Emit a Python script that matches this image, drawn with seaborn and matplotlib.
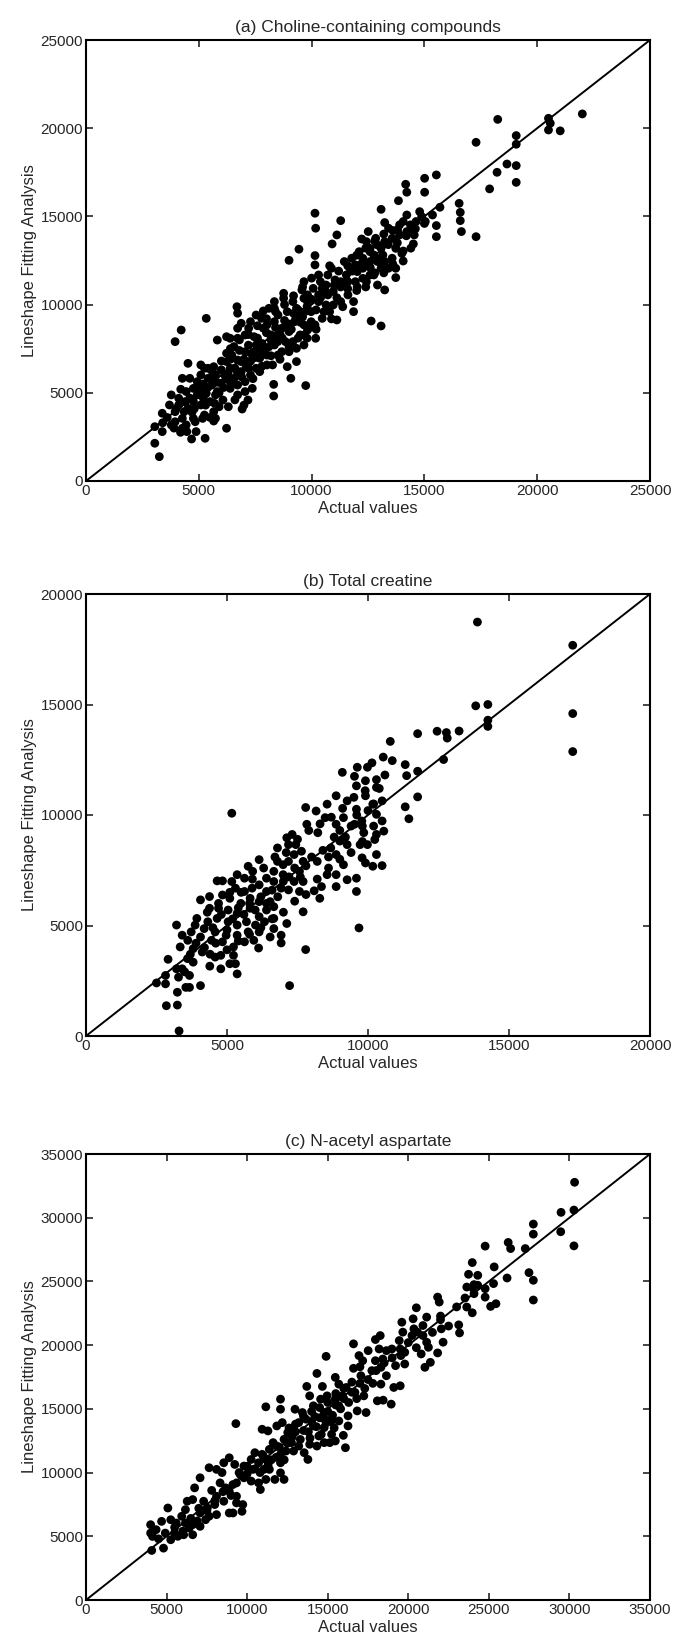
import matplotlib
matplotlib.use("Agg")
import matplotlib.pyplot as plt
import seaborn as sns
import pandas as pd

# (actual, lineshape fitting) pairs
choline_points = [
    (22000, 20810), (18250, 20500), (20500, 20560), (20580, 20280), (20500, 19900), (21020, 19850),
    (19070, 19580), (19070, 19090), (17290, 19200), (18660, 17970), (19070, 17880), (18220, 17500),
    (19070, 16930), (17890, 16560), (16540, 15740), (16590, 15230), (16590, 14760), (16640, 14140),
    (17290, 13850), (15530, 17350), (15010, 17160), (14170, 16820), (14220, 16370), (15010, 16370),
    (13850, 15890), (15690, 15520), (15360, 15080), (14790, 15270), (14220, 15080), (15040, 14710),
    (15530, 14480), (15530, 13850), (14470, 14140), (14510, 13440), (14060, 13040), (14060, 12470),
    (13730, 12060), (13730, 11530), (13080, 15400), (13240, 14650), (13810, 14240), (12510, 14140),
    (12220, 13720), (11120, 13950), (10910, 13440), (11290, 14760), (10150, 15180), (10180, 14330),
    (9440, 13140), (9000, 12510), (10150, 12780), (10150, 12250), (10880, 12060), (11450, 12440),
    (11940, 12250), (12590, 13000), (12920, 13380), (13240, 12440), (13080, 12060), (12760, 11680),
    (12430, 11300), (13240, 10830), (12020, 11000), (11860, 10170), (11610, 11300), (11290, 11000),
    (11120, 10390), (11380, 9880), (11860, 9600), (12640, 9070), (13080, 8790), (10310, 11680),
    (10640, 11110), (9660, 11300), (9820, 10550), (10310, 10170), (10550, 9600), (11120, 9130),
    (10880, 9190), (10150, 8850), (9820, 8560), (10180, 8090), (9660, 7710), (8760, 10640),
    (8350, 9790), (7860, 9640), (6690, 9880), (6720, 9510), (6880, 8940), (6230, 8180),
    (5820, 7990), (5330, 9220), (4220, 8560), (3950, 7900), (4520, 6670), (4270, 5820),
    (3780, 4880), (3380, 3840), (3050, 3080), (3050, 2140), (3250, 1380), (3380, 2800),
    (3780, 3180), (4190, 2760), (4470, 2800), (4680, 2380), (4880, 2800), (5280, 2420),
    (5660, 3400), (6230, 2990), (6310, 4210), (6920, 4080), (7180, 4590), (8320, 4820),
    (9080, 5820), (9740, 5410), (8320, 5480), (8920, 6480), (9330, 6770),
    (3700, 4310), (4110, 4690), (3950, 3930), (4270, 3550), (4520, 4120), (4760, 4500),
    (4440, 5070), (4760, 5250), (4930, 5630), (5250, 6390), (5090, 6010), (5410, 5820),
    (5580, 5440), (5330, 4970), (4930, 4880), (5090, 4310), (5500, 4500), (5740, 4880),
    (5660, 3930), (5250, 3740), (4760, 3550), (4440, 3180), (4840, 3360), (5170, 3550),
    (5740, 3550), (4600, 5820), (5090, 6580), (5410, 6390), (5660, 6480), (5740, 6010),
    (5990, 5540), (5820, 5070), (6070, 4590), (5900, 4210), (4110, 4310), (4350, 3930),
    (3950, 3360), (4270, 2990), (6390, 5250), (6560, 5820), (6390, 6390), (6720, 6860),
    (6460, 7140), (7050, 7330), (6880, 6770), (7210, 6390), (6880, 6200), (6720, 5440),
    (7050, 5630), (7290, 6010), (7540, 6390), (7700, 6960), (7370, 7140), (7540, 7710),
    (7860, 7520), (8020, 7140), (8020, 6580), (7700, 6200), (7370, 5250), (7050, 5070),
    (6720, 4880), (6390, 5630), (6150, 6010), (6230, 6770), (6230, 7240), (6390, 8090),
    (6720, 8660), (7210, 8660), (7450, 8180), (7860, 8660), (7780, 9220), (8020, 8850),
    (8350, 9030), (8190, 8280), (8350, 7710), (8510, 7140), (8270, 6580), (8680, 7330),
    (8840, 7900), (9000, 8470), (8680, 8660), (8510, 9410), (8920, 9600), (9170, 10170),
    (9330, 9790), (9250, 9030), (9490, 9220), (9660, 8850), (9490, 8280), (9170, 7900),
    (9000, 7330), (9330, 7520), (9660, 8280), (9980, 9030), (9980, 9600), (9820, 10170),
    (9570, 10830), (9660, 10360), (8760, 10360), (8350, 10170), (8110, 9790), (7540, 9410),
    (7290, 9030), (7050, 8280), (6720, 8090), (6560, 7620), (7620, 7240),
    (10470, 10920), (10720, 10550), (10960, 10740), (11290, 11300), (11540, 11680), (11700, 12060),
    (12020, 11870), (12270, 12060), (12270, 12630), (12590, 13190), (12760, 12810), (12920, 12440),
    (13160, 12810), (13240, 13570), (13570, 13760), (13730, 13190), (13900, 13950), (14220, 14140),
    (14380, 14520), (14630, 14710), (14880, 14990), (14550, 13950), (13570, 12630), (13410, 12060),
    (12920, 11110), (12590, 11680), (12430, 12250), (11940, 11300), (11610, 10550), (11290, 10170),
    (10960, 9980), (10640, 9980), (10800, 9600), (10470, 9220), (10310, 10550), (10070, 10920),
    (10390, 11300), (10720, 11680), (11040, 11400), (11780, 12630), (12110, 13000), (12430, 13570),
    (12840, 13760), (13080, 13190), (12590, 12440), (12270, 11490), (13410, 14330), (13900, 14520),
    (14060, 14710),
    (4600, 4700), (4800, 4100), (5000, 5200), (5200, 4700), (5400, 5300), (5600, 5900),
    (5800, 5600), (6000, 6300), (6200, 5800), (6400, 6900), (6600, 6400), (6800, 7400),
    (7000, 6900), (7200, 7700), (7400, 7300), (7600, 8100), (7800, 7800), (8000, 8400),
    (8200, 8000), (8400, 8700), (8600, 8300), (8800, 9100), (9000, 8900), (9200, 9500),
    (9400, 9700), (9600, 9300), (9800, 9900), (10000, 10300), (10200, 9700), (10400, 10400),
    (5100, 5000), (5300, 4300), (5500, 3600), (5700, 4400), (5900, 5000), (6100, 5300),
    (6300, 6100), (6500, 5500), (6700, 6200), (6900, 5900), (7100, 6500), (7300, 6800),
    (7500, 7000), (7700, 7500), (7900, 7200), (8100, 7600), (8300, 8200), (8500, 7900),
    (8700, 8100), (8900, 8800), (9100, 8600), (9300, 9200), (9500, 9000), (9700, 9600),
    (9900, 8700), (4400, 4500), (4200, 5200), (4000, 4100), (3600, 3600), (3400, 3300),
    (3900, 3000), (4700, 3900), (5200, 5500), (5600, 6200), (6000, 6800), (6400, 7500),
    (6800, 8000), (7200, 8300), (7600, 8800), (8000, 9200), (8400, 9600), (8800, 10000),
    (9200, 10500), (9600, 11000), (10000, 11500), (6600, 4600), (7000, 4300), (7400, 5800),
    (7800, 6500), (8200, 7100), (8600, 6900), (9000, 7600), (9400, 8100), (9800, 8100),
    (10200, 8600), (10600, 10800), (11000, 11100), (11400, 11200), (11800, 11900), (12200, 12300),
    (12600, 12100), (13000, 12600), (13400, 13400), (13800, 13500), (14200, 13900), (14600, 14300),
    (15000, 14600), (11200, 11900), (11600, 12200), (12000, 12800), (12400, 13200), (12800, 13600),
    (13200, 14000), (13600, 14200), (10800, 12200), (11600, 10900), (12000, 10800), (12400, 11000),
    (12800, 11800), (13200, 11800), (13600, 12300), (14000, 12900), (14400, 13200),
]

creatine_points = [
    (13880, 18730), (17260, 17680), (17260, 14590), (17260, 12870), (13820, 14940), (14250, 15000),
    (14250, 14290), (14250, 14010), (11760, 13680), (12450, 13790), (12780, 13730), (12810, 13480),
    (13230, 13800), (12680, 12510), (10790, 13330), (10540, 12620), (10860, 12460), (11320, 12280),
    (11370, 11780), (11760, 11980), (11760, 10820), (11320, 10370), (11450, 9830), (9090, 11930),
    (9620, 12160), (9980, 12160), (10140, 12360), (10600, 11810), (9520, 11750), (9590, 11320),
    (9910, 11550), (10300, 11250), (10500, 10640), (10170, 10490), (9910, 10870), (9590, 10260),
    (9260, 10640), (8870, 10870), (8550, 10490), (7790, 10340), (8160, 10180), (8480, 9880),
    (7830, 9580), (8220, 9200), (8870, 9580), (9130, 9880), (9520, 9580), (9780, 9730),
    (10300, 10030), (10500, 9730), (10300, 9120), (10560, 9270), (9850, 9200), (9980, 8660),
    (10240, 8890), (10300, 8210), (9790, 8060), (9910, 7830), (10170, 7680), (10500, 7710),
    (9720, 8660), (9260, 8660), (9000, 8820), (8680, 8510), (8870, 8210), (9130, 7750),
    (8870, 7300), (8550, 7300), (9260, 7070), (9590, 7140), (9590, 6540), (9680, 4890),
    (8870, 6760), (8350, 6760), (8090, 6570), (8290, 6230), (7700, 5620), (7790, 3910),
    (7220, 2280), (7120, 5090), (6920, 4560), (6920, 4210), (6660, 4860), (6530, 4480),
    (6120, 3980), (6140, 4710), (5170, 10080), (7120, 8970), (7310, 9120), (6790, 8510),
    (7180, 8660), (7440, 8660), (7640, 8360), (7700, 7900), (7570, 7450), (7380, 8210),
    (7180, 7900), (6990, 7750), (6790, 7900), (6660, 7450), (6990, 7300), (7380, 6990),
    (7700, 6990), (7570, 6540), (7180, 6610), (6920, 6690), (6660, 6990), (6400, 7140),
    (6140, 6840), (5910, 7450), (6140, 7980), (5750, 7680), (5620, 7140), (5890, 6690),
    (5620, 6540), (5360, 7300), (5170, 6990), (4840, 7020), (4650, 7020), (5300, 6690),
    (6400, 6540), (6530, 6080), (6140, 6080), (5820, 6230), (5490, 6000), (5100, 6230),
    (4840, 6380), (4380, 6310), (4060, 6160), (4380, 5780), (4700, 5780), (5040, 5700),
    (5360, 5550), (5820, 5780), (6140, 5400), (6400, 5700), (6660, 5850), (6660, 5320),
    (6330, 5170), (6010, 5020), (5690, 5170), (5360, 5020), (5040, 5170), (4650, 5320),
    (4320, 5170), (3930, 5320), (3870, 5020), (4190, 4860), (4580, 4710), (4970, 4560),
    (5360, 4560), (5750, 4710), (5950, 4330), (5620, 4260), (5230, 4030), (4840, 4260),
    (4450, 4330), (4060, 4480), (3730, 4710), (3410, 4560), (3210, 5020), (3610, 4330),
    (3800, 3950), (4120, 3800), (4580, 3570), (4780, 3650), (5230, 3650), (5300, 3270),
    (5360, 2810), (5100, 3270), (4780, 3040), (4390, 3160), (4060, 2280), (3670, 2200),
    (3540, 2200), (3670, 2740), (3410, 3040), (3280, 2660), (3210, 3040), (2910, 3470),
    (2820, 2740), (2820, 2360), (2500, 2400), (3240, 1980), (2850, 1370), (3240, 1400),
    (3300, 230), (3340, 4030), (3800, 3340),
    (4500, 4900), (4800, 5500), (5000, 4800), (5200, 5300), (5400, 5800), (5600, 5500),
    (5800, 6000), (6000, 5700), (6200, 6300), (6400, 6000), (6600, 6600), (6800, 6300),
    (7000, 7000), (7200, 7200), (7400, 7600), (7600, 7200), (7800, 7700), (8000, 8100),
    (8200, 7900), (8400, 8400), (8600, 8100), (8800, 9000), (9000, 9300), (9200, 9000),
    (9400, 9500), (9600, 10000), (9800, 9500), (10000, 10200), (10200, 10500), (10400, 11200),
    (4200, 4000), (4400, 3700), (4600, 4200), (5000, 3900), (5400, 4300), (5800, 4600),
    (6200, 4900), (6600, 5300), (7000, 5600), (7400, 6100), (7800, 6400), (8200, 7100),
    (8600, 7600), (9000, 8000), (9400, 8300), (9800, 8800), (10200, 9500), (4300, 5600),
    (4700, 6000), (5100, 6500), (5500, 6500), (5900, 7100), (6300, 7600), (6700, 8100),
    (7100, 8300), (7500, 8900), (7900, 9300), (8300, 9600), (8700, 9900), (9100, 10300),
    (9500, 10800), (9900, 11100), (10300, 11600), (3600, 3500), (3900, 4200), (3500, 2900),
    (3700, 3700),
]

naa_points = [
    (30320, 32780), (30280, 30600), (29480, 30420), (29460, 28900), (30280, 27790), (27760, 29500),
    (27760, 28710), (27260, 27580), (27490, 25690), (27760, 25090), (27760, 23540), (26200, 28060),
    (26350, 27580), (26130, 25270), (24770, 27770), (25330, 26140), (25290, 24830), (25440, 23250),
    (25110, 23040), (24770, 23770), (24770, 24430), (23970, 26480), (23740, 25560), (24310, 25480),
    (24080, 24750), (24310, 24700), (23630, 24560), (24080, 24040), (23520, 23700), (23630, 22990),
    (23970, 22540), (23130, 21590), (23180, 20960), (21820, 23770), (21920, 23380), (22000, 22280),
    (22050, 21280), (22160, 20230), (21820, 19390), (21140, 22200), (20910, 21540), (20500, 22930),
    (20300, 22070), (20350, 21280), (19600, 21800), (19660, 21020), (20230, 20750), (20570, 21020),
    (20910, 20750), (21140, 20230), (20800, 19310), (21250, 19830), (21370, 18650), (21030, 18260),
    (19440, 20360), (19780, 19440), (19540, 19180), (19210, 18390), (19780, 18520), (19500, 16810),
    (19100, 16680), (18260, 20750), (17960, 20440), (17510, 19570), (18190, 19700), (18640, 19570),
    (18980, 19700), (18420, 18910), (17960, 18780), (17740, 18000), (18300, 18260), (18640, 17600),
    (18300, 16940), (18080, 15630), (18440, 15680), (18940, 15370), (16600, 20100), (16940, 19180),
    (16600, 18180), (17170, 18780), (17060, 17600), (14900, 19120), (14330, 17780), (13700, 16760),
    (14670, 16760), (15470, 17470), (15690, 16940), (16150, 16680), (16690, 16290), (17240, 16020),
    (17380, 14710), (16830, 14840), (16260, 14450), (16260, 13660), (15970, 12920), (16100, 11950),
    (15470, 12480), (15240, 13000), (11160, 15160), (12070, 15760), (12070, 14970), (12180, 13920),
    (11840, 13660), (10930, 13400), (11290, 13270), (9300, 13840), (12970, 14970), (13430, 14710),
    (13880, 16020), (14110, 15240), (14560, 15760), (14780, 14710), (13650, 14190), (13200, 13920),
    (14110, 13660), (14780, 13530), (15240, 14190), (15690, 15240), (14960, 16020), (15470, 15760),
    (15920, 16020), (15690, 14050), (14450, 12870), (14780, 12350), (15130, 12350), (14330, 12080),
    (13880, 12220), (13540, 11560), (13770, 11030), (13200, 12080), (12750, 12350), (12880, 11690),
    (12290, 12610), (12410, 11690), (12070, 11430), (11840, 12080), (11610, 12350), (11380, 11820),
    (10930, 11430), (10480, 11560), (10250, 11030), (9800, 10510), (10360, 10250), (10710, 10770),
    (11160, 11030), (11380, 10250), (11160, 9460), (10710, 9190), (10820, 8670), (10250, 9330),
    (9800, 9590), (9340, 9190), (9570, 9850), (9230, 10640), (8890, 11160), (8550, 10770),
    (8440, 10000), (8100, 10250), (7640, 10380), (8320, 9190), (8670, 8800), (8890, 8540),
    (9120, 9060), (9340, 8140), (9730, 7490), (9680, 6960), (9120, 6830), (8890, 6830),
    (9340, 7620), (8550, 7750), (8100, 8140), (7990, 7490), (8100, 6700), (7640, 6570),
    (7530, 7220), (7300, 7750), (7080, 6830), (6620, 7880), (6740, 8800), (7080, 9590),
    (6280, 7750), (6170, 7090), (5940, 6570), (6170, 6040), (6400, 5650), (6620, 5120),
    (6060, 5120), (5600, 6040), (5260, 6300), (5080, 7220), (5490, 5250), (5260, 4730),
    (4920, 5250), (4690, 6170), (4350, 5520), (4010, 5250), (4130, 4990), (4010, 5910),
    (4810, 4070), (4080, 3890), (7080, 5780), (7420, 6300), (6620, 5910), (12290, 9460),
    (12070, 10770), (12070, 9980), (11720, 9460), (11040, 10250), (12520, 13140),
    (9500, 10000), (10000, 10500), (10500, 10300), (11000, 11300), (11500, 11000), (12000, 12000),
    (12500, 12300), (13000, 13200), (13500, 13300), (14000, 14000), (14500, 14300), (15000, 14800),
    (15500, 15300), (16000, 15800), (16500, 16300), (17000, 17000), (17500, 17300), (18000, 18000),
    (10000, 9900), (10800, 10000), (11300, 10600), (11800, 11200), (12300, 11000), (12800, 12800),
    (13300, 12600), (13800, 13200), (14300, 13600), (14800, 14200), (15300, 14500), (15800, 15000),
    (16300, 15500), (16800, 15800), (17300, 16600), (17800, 17000), (13000, 13800), (13500, 14400),
    (14000, 14800), (14500, 15100), (15000, 15500), (15500, 16200), (16000, 16600), (16500, 17100),
    (17000, 18300), (14200, 14400), (14900, 13900), (15200, 14000), (15400, 13500), (14600, 13000),
    (13900, 12700), (12600, 13500), (5500, 5700), (6000, 5400), (6500, 6400), (7000, 7200),
    (7500, 7000), (8000, 7800), (8500, 8500), (9000, 8200), (7800, 8600), (6900, 6200),
    (5700, 5000), (4500, 4800), (19000, 19000), (19500, 19700), (20000, 20200), (18500, 18600),
    (20500, 19800), (22000, 22000), (22500, 21500), (21500, 21000), (23000, 23000), (24000, 24500),
]

panels = [
    ("(a) Choline-containing compounds", choline_points, 25000, [0, 5000, 10000, 15000, 20000, 25000]),
    ("(b) Total creatine", creatine_points, 20000, [0, 5000, 10000, 15000, 20000]),
    ("(c) N-acetyl aspartate", naa_points, 35000, [0, 5000, 10000, 15000, 20000, 25000, 30000, 35000]),
]

sns.set_style("ticks")
plt.rcParams["font.family"] = ["Liberation Sans", "DejaVu Sans"]

fig = plt.figure(figsize=(6.75, 16.34), dpi=100)
# axes boxes in pixels: (top, bottom)
boxes = [(40, 481), (594, 1036), (1154, 1600)]
W, H = 675, 1634
left, right = 86, 650

for (title, pts, lim, ticks), (top, bottom) in zip(panels, boxes):
    ax = fig.add_axes([left / W, 1 - bottom / H, (right - left) / W, (bottom - top) / H])
    df = pd.DataFrame(pts, columns=["actual", "fit"])
    ax.plot([0, lim], [0, lim], color="black", lw=1.4, zorder=1)
    sns.scatterplot(data=df, x="actual", y="fit", ax=ax, color="black",
                    s=40, edgecolor="none", linewidth=0, zorder=2)
    ax.set_xlim(0, lim)
    ax.set_ylim(0, lim)
    ax.set_xticks(ticks)
    ax.set_yticks(ticks)
    ax.set_xticklabels([str(t) for t in ticks], fontsize=11)
    ax.set_yticklabels([str(t) for t in ticks], fontsize=11)
    ax.tick_params(direction="in", length=5, width=1.2, top=True, right=True, pad=2)
    for sp in ax.spines.values():
        sp.set_linewidth(1.5)
        sp.set_color("black")
    ax.set_title(title, fontsize=12.5, pad=6)
    ax.set_xlabel("Actual values", fontsize=12, labelpad=2)
    ax.set_ylabel("Lineshape Fitting Analysis", fontsize=12, labelpad=3)

fig.savefig("out.png", dpi=100)
